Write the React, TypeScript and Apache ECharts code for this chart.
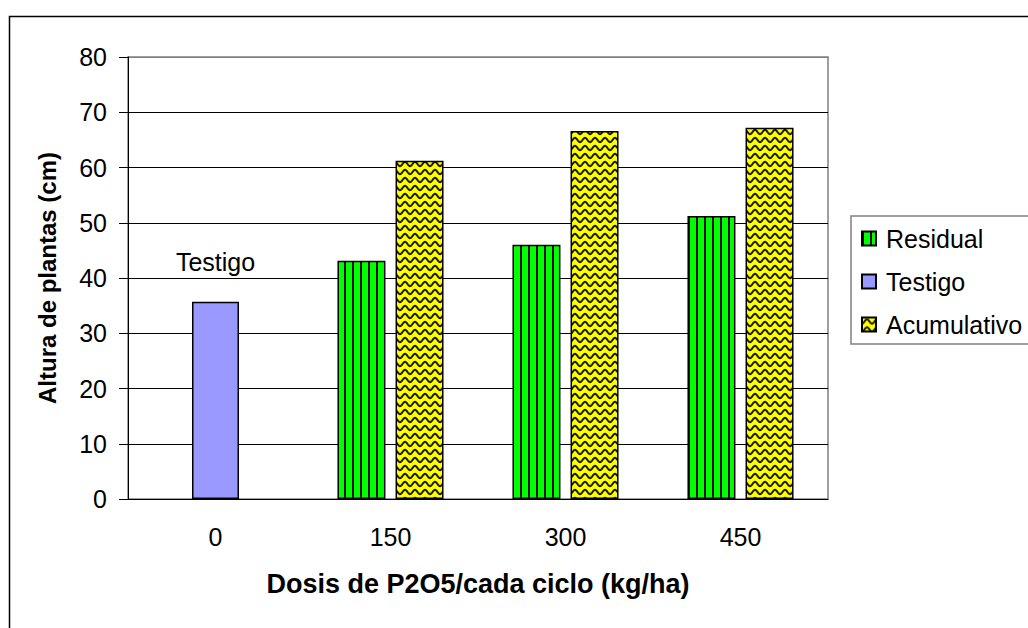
import React, { useEffect, useRef } from "react";
import * as echarts from "echarts";

// Dose categories (kg/ha of P2O5 per cycle)
const categories = ["0", "150", "300", "450"];
// Plant height (cm) per treatment
const residual = ["-", 43.1, 46.0, 51.2];
const testigo = [35.7, "-", "-", "-"];
const acumulativo = ["-", 61.2, 66.6, 67.2];
const yTicks = { min: 0, max: 80, interval: 10 };

const FONT = "'Liberation Sans', Arial, sans-serif";

function makeStripeTile(): HTMLCanvasElement {
  const c = document.createElement("canvas");
  c.width = 8;
  c.height = 8;
  const ctx = c.getContext("2d")!;
  ctx.fillStyle = "#00ff00";
  ctx.fillRect(0, 0, 8, 8);
  ctx.fillStyle = "#0a0a0a";
  ctx.fillRect(0, 0, 2, 8);
  return c;
}

function makeWaveTile(): HTMLCanvasElement {
  const w = 10;
  const h = 8;
  const c = document.createElement("canvas");
  c.width = w;
  c.height = h;
  const ctx = c.getContext("2d")!;
  ctx.fillStyle = "#ffff00";
  ctx.fillRect(0, 0, w, h);
  ctx.strokeStyle = "#1a1a00";
  ctx.lineWidth = 2;
  ctx.beginPath();
  for (let x = -1; x <= w + 1; x += 0.5) {
    const y = 4 + 2.2 * Math.cos((x / w) * Math.PI * 2);
    if (x === -1) ctx.moveTo(x, y);
    else ctx.lineTo(x, y);
  }
  ctx.stroke();
  return c;
}

export default function App() {
  const ref = useRef<HTMLDivElement>(null);

  useEffect(() => {
    if (!ref.current) return;
    const chart = echarts.init(ref.current, undefined, { renderer: "svg" });

    const stripe = {
      image: makeStripeTile(),
      repeat: "repeat",
      imageWidth: 8,
      imageHeight: 8,
    } as any;
    const wave = {
      image: makeWaveTile(),
      repeat: "repeat",
      imageWidth: 10,
      imageHeight: 8,
    } as any;

    const splitColors = [
      "#000", "#000", "#000", "#000", "#000", "#000", "#000", "#000", "#808080",
    ];

    chart.setOption({
      animation: false,
      backgroundColor: "#ffffff",
      textStyle: { fontFamily: FONT, color: "#000" },
      grid: {
        left: 128,
        top: 57,
        right: 200,
        bottom: 129,
        show: true,
        borderColor: "#808080",
        borderWidth: 1.5,
        backgroundColor: "transparent",
      },
      legend: {
        orient: "vertical",
        left: 851,
        top: 216,
        padding: [10, 40, 7, 10],
        itemWidth: 14,
        itemHeight: 14,
        itemGap: 18,
        icon: "rect",
        borderColor: "#808080",
        borderWidth: 1.5,
        backgroundColor: "#ffffff",
        data: ["Residual", "Testigo", "Acumulativo"],
        textStyle: {
          fontFamily: FONT,
          fontSize: 25,
          lineHeight: 25,
          color: "#000",
          padding: [0, 0, 0, 5],
        },
      },
      xAxis: [
        {
          type: "category",
          data: categories,
          boundaryGap: true,
          axisLine: { lineStyle: { color: "#000", width: 1 } },
          axisTick: { length: 9, lineStyle: { color: "#000" } },
          axisLabel: {
            fontFamily: FONT,
            fontSize: 25,
            color: "#000",
            margin: 25,
          },
          name: "Dosis de P2O5/cada ciclo (kg/ha)",
          nameLocation: "middle",
          nameGap: 71,
          nameTextStyle: {
            fontFamily: FONT,
            fontSize: 27,
            fontWeight: "bold",
            color: "#000",
          },
        },
        {
          type: "category",
          data: categories,
          show: false,
        },
      ],
      yAxis: {
        type: "value",
        min: yTicks.min,
        max: yTicks.max,
        interval: yTicks.interval,
        axisLine: { show: true, lineStyle: { color: "#000", width: 1 } },
        axisTick: { show: true, length: 9, lineStyle: { color: "#000" } },
        axisLabel: {
          fontFamily: FONT,
          fontSize: 25,
          color: "#000",
          margin: 21,
        },
        splitLine: { show: true, lineStyle: { color: splitColors, width: 1 } },
        name: "Altura de plantas (cm)",
        nameLocation: "middle",
        nameGap: 69,
        nameTextStyle: {
          fontFamily: FONT,
          fontSize: 24,
          fontWeight: "bold",
          color: "#000",
        },
      },
      series: [
        {
          name: "Residual",
          type: "bar",
          xAxisIndex: 0,
          data: residual,
          barWidth: 48,
          barGap: "21%",
          itemStyle: { color: stripe, borderColor: "#000", borderWidth: 1.5 },
        },
        {
          name: "Acumulativo",
          type: "bar",
          xAxisIndex: 0,
          data: acumulativo,
          barWidth: 48,
          barGap: "21%",
          itemStyle: { color: wave, borderColor: "#000", borderWidth: 1.5 },
        },
        {
          name: "Testigo",
          type: "bar",
          xAxisIndex: 1,
          data: testigo,
          barWidth: 47,
          itemStyle: { color: "#9999ff", borderColor: "#000", borderWidth: 1.5 },
          label: {
            show: true,
            position: "top",
            distance: 27,
            formatter: "Testigo",
            fontFamily: FONT,
            fontSize: 25,
            color: "#000",
          },
        },
      ],
      graphic: [
        {
          type: "rect",
          left: 7,
          top: 14,
          shape: { x: 0, y: 0, width: 1100, height: 700 },
          style: { fill: "none", stroke: "#000", lineWidth: 1.5 },
          silent: true,
          z: 100,
        },
      ],
    });

    return () => chart.dispose();
  }, []);

  return (
    <div
      ref={ref}
      style={{ position: "absolute", left: 0, top: 0, width: 1028, height: 628 }}
    />
  );
}
